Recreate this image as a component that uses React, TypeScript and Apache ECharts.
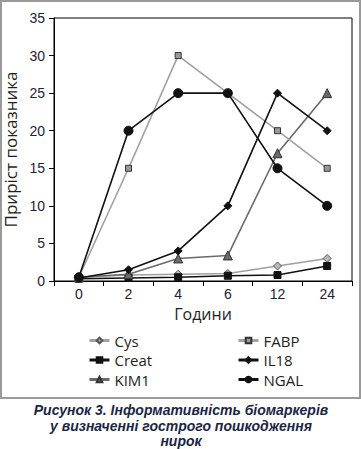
import React, { useEffect, useRef } from "react";
import * as echarts from "echarts";

const hours = ["0", "2", "4", "6", "12", "24"];
const cys = [0.5, 0.8, 0.9, 1.0, 2.0, 3.0];
const creat = [0.3, 0.4, 0.5, 0.7, 0.8, 2.0];
const kim1 = [0.5, 0.9, 3.0, 3.4, 17, 25];
const fabp = [0.5, 15, 30, 25, 20, 15];
const il18 = [0.4, 1.5, 4.0, 10, 25, 20];
const ngal = [0.5, 20, 25, 25, 15, 10];

const yTitle = "Приріст показника";
const xTitle = "Години";
const captionLines = [
  "Рисунок 3. Інформативність біомаркерів",
  "у визначенні гострого пошкодження",
  "нирок",
];

type Spec = {
  name: string;
  data: number[];
  line: string;
  symbol: string;
  size: number;
  fill: string;
  border: string;
};

const specs: Spec[] = [
  { name: "Cys", data: cys, line: "#a0a0a0", symbol: "diamond", size: 8, fill: "#b8b8b8", border: "#555" },
  { name: "Creat", data: creat, line: "#111", symbol: "rect", size: 7, fill: "#111", border: "#111" },
  { name: "KIM1", data: kim1, line: "#6a6a6a", symbol: "triangle", size: 9, fill: "#6a6a6a", border: "#333" },
  { name: "FABP", data: fabp, line: "#a0a0a0", symbol: "rect", size: 6, fill: "#999", border: "#333" },
  { name: "IL18", data: il18, line: "#111", symbol: "diamond", size: 8, fill: "#111", border: "#111" },
  { name: "NGAL", data: ngal, line: "#111", symbol: "circle", size: 9, fill: "#111", border: "#111" },
];

export default function App() {
  const ref = useRef<HTMLDivElement>(null);
  useEffect(() => {
    if (!ref.current) return;
    const chart = echarts.init(ref.current, null, { renderer: "svg" });
    const mk = (s: Spec, z: number) => ({
      name: s.name,
      type: "line",
      data: s.data,
      z,
      symbol: s.symbol,
      symbolSize: s.size,
      showAllSymbol: true,
      lineStyle: { color: s.line, width: 1.6 },
      itemStyle: { color: s.fill, borderColor: s.border, borderWidth: 1 },
      emphasis: { disabled: true },
      silent: true,
    });
    const legendText = {
      fontFamily: "Open Sans",
      fontSize: 15,
      color: "#231f20",
      lineHeight: 17,
    };
    const legendCommon = {
      orient: "vertical",
      top: 327,
      itemWidth: 20,
      itemHeight: 7,
      itemGap: 2.5,
      textStyle: legendText,
      lineStyle: { width: 3 },
      selectedMode: false,
    };
    chart.setOption({
      animation: false,
      grid: {
        left: 54,
        top: 18,
        right: 9,
        bottom: 168,
        show: true,
        borderColor: "#000",
        borderWidth: 1,
        containLabel: false,
        outerBoundsMode: "none",
      },
      xAxis: {
        type: "category",
        data: hours,
        boundaryGap: true,
        name: xTitle,
        nameLocation: "middle",
        nameGap: 24,
        nameTextStyle: { fontFamily: "Open Sans", fontSize: 16, color: "#231f20" },
        axisLine: { lineStyle: { color: "#000", width: 1 } },
        axisTick: { show: true, length: 5, lineStyle: { color: "#000" } },
        axisLabel: {
          fontFamily: "Liberation Sans",
          fontSize: 14,
          color: "#1e2235",
          margin: 6,
        },
        splitLine: { show: false },
      },
      yAxis: {
        type: "value",
        min: 0,
        max: 35,
        interval: 5,
        name: yTitle,
        nameLocation: "middle",
        nameGap: 27,
        nameTextStyle: { fontFamily: "Open Sans", fontSize: 17, color: "#231f20" },
        axisLine: { show: true, lineStyle: { color: "#000", width: 1 } },
        axisTick: { show: true, length: 5, lineStyle: { color: "#000" } },
        axisLabel: {
          fontFamily: "Liberation Sans",
          fontSize: 14,
          color: "#1e2235",
          margin: 9,
        },
        splitLine: { show: false },
      },
      legend: [
        {
          ...legendCommon,
          left: 83,
          data: ["Cys", "Creat", "KIM1"],
        },
        {
          ...legendCommon,
          left: 232,
          data: ["FABP", "IL18", "NGAL"],
        },
      ],
      graphic: [
        {
          type: "rect",
          shape: { x: 1, y: 1, width: 359, height: 397 },
          style: { fill: "none", stroke: "#9a9a9a", lineWidth: 2 },
          silent: true,
        },
        ...captionLines.map((t, i) => ({
          type: "text",
          x: 181,
          y: 410 + i * 15.5,
          style: {
            text: t,
            fontFamily: "Liberation Sans",
            fontSize: 14,
            fontWeight: "bold",
            fontStyle: "italic",
            fill: "#1b2644",
            align: "center",
            verticalAlign: "middle",
          },
        })),
      ],
      series: specs.map((s, i) => mk(s, 2 + i)),
    });
    return () => chart.dispose();
  }, []);
  return (
    <div
      ref={ref}
      style={{ position: "absolute", left: 0, top: 0, width: 361, height: 449, background: "#fff" }}
    />
  );
}
